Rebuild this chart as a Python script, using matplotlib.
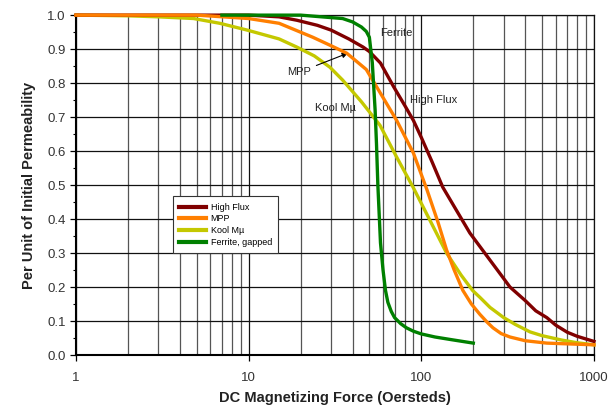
import matplotlib
matplotlib.use("Agg")
import matplotlib.pyplot as plt
from matplotlib.ticker import LogLocator, NullFormatter, MultipleLocator

plt.rcParams["font.family"] = ["Liberation Sans", "DejaVu Sans"]

# ---------- данные ----------
high_flux_x = [1, 5, 10, 15, 19, 25, 30, 38, 46, 50, 58, 69, 80, 90, 100, 115, 133, 160, 191,
               220, 250, 290, 326, 400, 460, 533, 600, 700, 800, 900, 1000]
high_flux_y = [1.0, 1.0, 1.0, 0.995, 0.985, 0.97, 0.956, 0.93, 0.906, 0.893, 0.859, 0.79, 0.735,
               0.69, 0.64, 0.57, 0.494, 0.425, 0.359, 0.317, 0.279, 0.235, 0.20, 0.16, 0.13,
               0.11, 0.088, 0.067, 0.055, 0.047, 0.04]

mpp_x = [1, 5, 10, 15, 23.5, 30, 37, 48, 58, 72, 90, 108, 125, 140, 155, 174, 195, 218, 240,
         260, 290, 326, 400, 533, 1000]
mpp_y = [1.0, 1.0, 0.99, 0.976, 0.935, 0.91, 0.888, 0.84, 0.77, 0.69, 0.594, 0.485, 0.39, 0.309,
         0.25, 0.19, 0.15, 0.12, 0.097, 0.08, 0.063, 0.053, 0.042, 0.035, 0.03]

kool_x = [1, 2, 3, 4.8, 6.8, 9.8, 15, 19, 24, 29.5, 35, 45, 57.6, 72, 89.5, 112, 140, 170, 198,
          218, 250, 300, 350, 426, 500, 650, 800, 1000]
kool_y = [1.0, 0.998, 0.995, 0.99, 0.976, 0.956, 0.93, 0.906, 0.88, 0.847, 0.809, 0.745, 0.676,
          0.582, 0.494, 0.397, 0.30, 0.235, 0.19, 0.17, 0.14, 0.11, 0.09, 0.068, 0.057, 0.044,
          0.036, 0.03]

ferrite_x = [7, 20, 35, 40, 45, 48, 50, 52, 54, 55, 56, 58, 60, 62, 64, 67, 70, 76, 82, 90,
             100, 120, 150, 200]
ferrite_y = [1.0, 1.0, 0.99, 0.98, 0.965, 0.952, 0.935, 0.86, 0.72, 0.62, 0.50, 0.33, 0.25,
             0.19, 0.155, 0.128, 0.11, 0.092, 0.08, 0.07, 0.062, 0.053, 0.045, 0.035]

x_ticks = [1, 10, 100, 1000]
x_tick_labels = ["1", "10", "100", "1000"]

# ---------- рисуем ----------
fig = plt.figure(figsize=(6.13, 4.09), dpi=100)
ax = fig.add_axes([0.124, 0.132, 0.845, 0.831])

ax.set_xscale("log")
ax.set_xlim(1, 1000)
ax.set_ylim(0, 1.0)

# сетка: все логарифмические деления + горизонтальные по 0.1
ax.xaxis.set_minor_locator(LogLocator(base=10, subs=range(2, 10)))
ax.xaxis.set_minor_formatter(NullFormatter())
ax.grid(which="major", axis="x", color="#111111", lw=0.9)
ax.grid(which="minor", axis="x", color="#555555", lw=0.9)
ax.grid(which="major", axis="y", color="#111111", lw=0.9)
ax.set_axisbelow(True)

lw = 2.4
ax.plot(kool_x, kool_y, color="#c4c800", lw=lw, label="Kool Mµ", clip_on=False, zorder=3)
ax.plot(high_flux_x, high_flux_y, color="#800000", lw=lw, label="High Flux", clip_on=False, zorder=4)
ax.plot(mpp_x, mpp_y, color="#ff7f00", lw=lw, label="MPP", clip_on=False, zorder=5)
ax.plot(ferrite_x, ferrite_y, color="#008000", lw=lw, label="Ferrite, gapped", clip_on=False, zorder=6)

# подписи кривых
fs = 8
ax.text(57.6, 0.947, "Ferrite", fontsize=fs, va="center", ha="left", color="#222222")
ax.text(86, 0.75, "High Flux", fontsize=fs, va="center", ha="left", color="#222222")
ax.text(24.2, 0.726, "Kool Mµ", fontsize=fs, va="center", ha="left", color="#222222")
ax.annotate("MPP", xy=(37.5, 0.888), xytext=(16.7, 0.832), fontsize=fs, va="center", ha="left",
            color="#222222",
            arrowprops=dict(arrowstyle="-|>", color="black", lw=0.8, shrinkA=2, shrinkB=0,
                            mutation_scale=8))

# легенда в порядке оригинала
h, l = ax.get_legend_handles_labels()
order = [1, 2, 0, 3]
leg = ax.legend([h[i] for i in order], [l[i] for i in order], loc="upper left",
                bbox_to_anchor=(0.178, 0.48), fontsize=6.5, frameon=True, fancybox=False,
                edgecolor="#333333", framealpha=1.0, handlelength=3.0, borderpad=0.7,
                labelspacing=0.3, handletextpad=0.5)
leg.get_frame().set_linewidth(0.8)
for line in leg.get_lines():
    line.set_linewidth(3.0)

# оси и подписи
ax.set_xticks(x_ticks)
ax.set_xticklabels(x_tick_labels)
ax.yaxis.set_major_locator(MultipleLocator(0.1))
ax.yaxis.set_minor_locator(MultipleLocator(0.05))
ax.yaxis.set_major_formatter(plt.FuncFormatter(lambda v, p: f"{v:.1f}"))
ax.tick_params(axis="both", which="major", labelsize=9.5, labelcolor="#333333", length=4,
               direction="out", width=0.9)
ax.tick_params(axis="x", which="major", pad=8)
ax.tick_params(axis="x", which="minor", length=0)
ax.tick_params(axis="y", which="minor", length=2.5, direction="out", width=0.8)

for side in ["left", "bottom"]:
    ax.spines[side].set_linewidth(1.5)
    ax.spines[side].set_color("black")
for side in ["top", "right"]:
    ax.spines[side].set_linewidth(0.9)
    ax.spines[side].set_color("#111111")

ax.set_xlabel("DC Magnetizing Force (Oersteds)", fontsize=10.5, fontweight="bold",
              color="#222222", labelpad=5)
ax.set_ylabel("Per Unit of Initial Permeability", fontsize=10.5, fontweight="bold",
              color="#222222", labelpad=8)

fig.savefig("out.png", dpi=100)
